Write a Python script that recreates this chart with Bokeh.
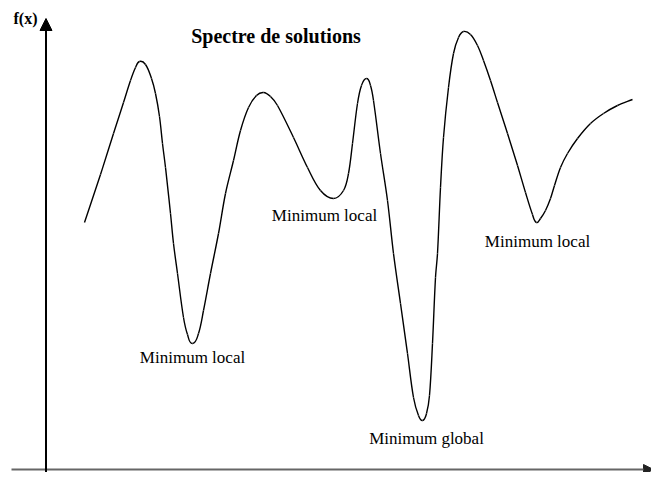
from bokeh.plotting import figure
from bokeh.models import Range1d, Arrow, NormalHead, ColumnDataSource
from bokeh.core.properties import value
from bokeh.embed import file_html
from bokeh.resources import INLINE
import numpy as np

# Curve samples (x along the axis, f(x) above the axis)
x_vals = [39, 55, 68, 78, 85, 90, 94, 100, 106, 110, 114, 117, 120, 125, 128, 132, 138, 142, 147,
          153, 158, 165, 173, 180, 188, 195, 203, 211, 218, 225, 232, 248, 262, 275, 288,
          298, 303, 307, 312, 316, 321, 325, 328, 335, 342, 348, 355, 362, 368, 373, 377,
          381, 384, 387, 390, 392, 395, 398, 403, 408, 413, 418, 425, 432, 438, 445, 452,
          462, 472, 480, 487, 491, 495, 500, 505, 509, 515, 522, 532, 545, 558, 572, 587]
f_vals = [246, 294, 335, 366, 388, 401, 407, 404, 390, 375, 352, 325, 301, 255, 225, 195, 151, 134, 125,
          135, 158, 195, 235, 275, 308, 338, 361, 373, 376, 372, 363, 331, 301, 278, 270,
          278, 295, 325, 365, 383, 390, 383, 368, 315, 268, 215, 165, 115, 71, 53, 48,
          55, 73, 125, 191, 215, 281, 331, 381, 415, 431, 437, 434, 423, 408, 388, 366,
          335, 303, 276, 254, 246, 250, 258, 270, 283, 301, 315, 330, 345, 355, 363, 369]

title_text = "Spectre de solutions"
y_label = "f(x)"
min_labels = ["Minimum local", "Minimum local", "Minimum global", "Minimum local"]

assert len(x_vals) == len(f_vals)
xa = np.array(x_vals, dtype=float)
fa = np.array(f_vals, dtype=float)
min_idx = [i for i in range(1, len(fa) - 1) if fa[i] < fa[i - 1] and fa[i] < fa[i + 1]]

# Smooth rendering: each segment between consecutive read points is drawn as a
# cubic Bezier whose handles follow the neighbouring points (chord-length scaled).
P = np.column_stack([xa, fa])
Pp = np.vstack([P[0], P, P[-1]])
x0, y0, x1, y1, cx0, cy0, cx1, cy1 = ([] for _ in range(8))
for i in range(len(P) - 1):
    p0, p1, p2, p3 = Pp[i], Pp[i + 1], Pp[i + 2], Pp[i + 3]
    d12 = np.linalg.norm(p2 - p1)
    t1 = (p2 - p0) / np.linalg.norm(p2 - p0)
    t2 = (p3 - p1) / np.linalg.norm(p3 - p1)
    c1 = p1 + t1 * d12 / 3.0
    c2 = p2 - t2 * d12 / 3.0
    x0.append(p1[0]); y0.append(p1[1]); x1.append(p2[0]); y1.append(p2[1])
    cx0.append(c1[0]); cy0.append(c1[1]); cx1.append(c2[0]); cy1.append(c2[1])

W, H = 651, 472
p = figure(width=W, height=H, output_backend="svg", toolbar_location=None,
           x_range=Range1d(-45, -45 + W), y_range=Range1d(468 - H, 468),
           x_axis_type=None, y_axis_type=None, min_border=0)
p.outline_line_color = None
p.xgrid.visible = False
p.ygrid.visible = False
p.background_fill_color = "white"
p.border_fill_color = "white"

# Horizontal axis (grey) with arrow
p.add_layout(Arrow(end=NormalHead(size=10, fill_color="#222222", line_color="#222222"),
                   x_start=-34, y_start=-1, x_end=608, y_end=-1,
                   line_color="#666666", line_width=2))
# Vertical axis (black) with arrow
p.add_layout(Arrow(end=NormalHead(size=12, fill_color="black", line_color="black"),
                   x_start=0.5, y_start=-20, x_end=0.5, y_end=450,
                   line_color="black", line_width=2))

# Curve
p.bezier(x0=x0, y0=y0, x1=x1, y1=y1, cx0=cx0, cy0=cy0, cx1=cx1, cy1=cy1,
         line_color="black", line_width=1.4)

# Labels at minima
dx = [0, -9, 4, 1]
dy = [14, 17, 18, 19]
src = ColumnDataSource(dict(x=[xa[i] for i in min_idx], y=[fa[i] for i in min_idx],
                            t=min_labels, dx=dx, dy=dy))
p.text(x="x", y="y", text="t", x_offset="dx", y_offset="dy", source=src,
       text_font=value("Liberation Serif"), text_font_size="17px",
       text_align="center", text_baseline="alphabetic", text_color="black")

# Title
p.text(x=[230.5], y=[433], text=[title_text], text_font=value("Liberation Serif"),
       text_font_size="20px", text_font_style="bold", text_align="center",
       text_baseline="alphabetic", text_color="black")

# Y label
p.text(x=[-20], y=[450], text=[y_label], text_font=value("Liberation Serif"),
       text_font_size="16px", text_font_style="bold", text_align="center",
       text_baseline="alphabetic", text_color="black")

open("out.html", "w").write(file_html(p, INLINE))
